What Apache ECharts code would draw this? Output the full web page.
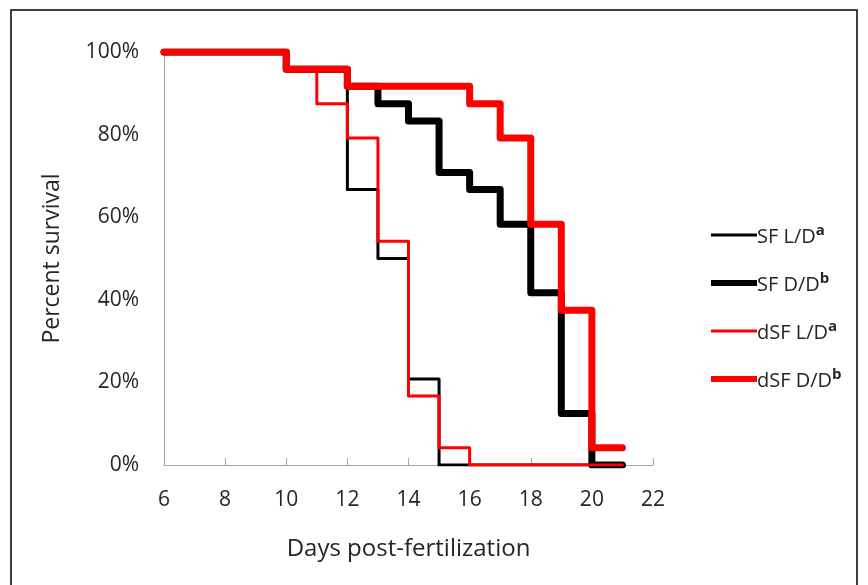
<!DOCTYPE html>
<html>
<head>
<meta charset="utf-8">
<script src="https://cdn.jsdelivr.net/npm/echarts@6/dist/echarts.min.js"></script>
<style>
  html, body { margin: 0; padding: 0; background: #fff; }
  #chart { width: 868px; height: 585px; }
</style>
</head>
<body>
<div id="chart"></div>
<script>
// Kaplan-Meier survival steps: value holds from that day until the next listed day
const days = [6, 10, 11, 12, 13, 14, 15, 16, 17, 18, 19, 20, 21];
const sfLD  = [100, 95.8, 95.8, 66.7, 50.0, 20.8, 0, 0, 0, 0, 0, 0, 0];
const sfDD  = [100, 95.8, 95.8, 91.7, 87.5, 83.3, 70.8, 66.7, 58.3, 41.7, 12.5, 0, 0];
const dsfLD = [100, 95.8, 87.5, 79.2, 54.2, 16.7, 4.2, 0, 0, 0, 0, 0, 0];
const dsfDD = [100, 95.8, 95.8, 91.7, 91.7, 91.7, 91.7, 87.5, 79.2, 58.3, 37.5, 4.2, 4.2];

const seriesNames = ['SF L/D', 'SF D/D', 'dSF L/D', 'dSF D/D'];
const seriesSup = ['a', 'b', 'a', 'b'];
const seriesColors = ['#000000', '#000000', '#ff0000', '#ff0000'];
const seriesWidths = [3, 7, 3, 7];

const FONT = '"Open Sans", "Noto Sans", sans-serif';
const TEXT = '#262626';
const AXIS = '#a6a6a6';

function pairs(vals) {
  return days.map((d, i) => [d, vals[i]]);
}

function stepSeries(i, vals) {
  return {
    name: seriesNames[i],
    type: 'line',
    step: 'end',
    symbol: 'none',
    data: pairs(vals),
    lineStyle: { color: seriesColors[i], width: seriesWidths[i], cap: 'round', join: 'round' },
    itemStyle: { color: seriesColors[i] },
    emphasis: { disabled: true },
    animation: false
  };
}

// legend key: a flat bar as thick as the series stroke
function keyIcon(w) {
  return 'path://M0,0 L46,0 L46,' + w + ' L0,' + w + ' Z';
}

const chart = echarts.init(document.getElementById('chart'), null, { renderer: 'canvas' });

chart.setOption({
  backgroundColor: '#ffffff',
  animation: false,
  grid: { left: 164, right: 215, top: 52, bottom: 120, containLabel: false },
  xAxis: {
    type: 'value',
    min: 6, max: 22, interval: 2,
    name: 'Days post-fertilization',
    nameLocation: 'middle',
    nameGap: 72,
    nameTextStyle: { fontFamily: FONT, fontSize: 24, color: TEXT },
    axisLine: { show: true, lineStyle: { color: AXIS, width: 1 } },
    axisTick: { show: true, inside: true, length: 7, lineStyle: { color: AXIS } },
    axisLabel: { fontFamily: FONT, fontSize: 21, color: TEXT, margin: 25 },
    splitLine: { show: false }
  },
  yAxis: {
    type: 'value',
    min: 0, max: 100, interval: 20,
    name: 'Percent survival',
    nameLocation: 'middle',
    nameGap: 100,
    nameTextStyle: { fontFamily: FONT, fontSize: 23, color: TEXT },
    axisLine: { show: true, lineStyle: { color: AXIS, width: 1 } },
    axisTick: { show: false },
    axisLabel: { fontFamily: FONT, fontSize: 21, color: TEXT, margin: 25, formatter: '{value}%' },
    splitLine: { show: false }
  },
  legend: {
    orient: 'vertical',
    left: 706,
    top: 218,
    itemWidth: 46,
    itemHeight: 24,
    itemGap: 24,
    selectedMode: false,
    symbolKeepAspect: true,
    data: seriesNames.map((n, i) => ({
      name: n,
      icon: keyIcon(seriesWidths[i] - (i % 2 === 1 ? 1 : 0)),
      itemStyle: { color: seriesColors[i] }
    })),
    formatter: function (name) {
      const i = seriesNames.indexOf(name);
      return '{n|' + name + '}{s|' + seriesSup[i] + '}';
    },
    textStyle: {
      padding: [0, 0, 0, -5],
      rich: {
        n: { fontFamily: FONT, fontSize: 20, color: TEXT, lineHeight: 24, verticalAlign: 'bottom' },
        s: { fontFamily: FONT, fontSize: 15, fontWeight: 'bold', color: TEXT, lineHeight: 15, verticalAlign: 'top' }
      }
    }
  },
  graphic: [{
    type: 'rect',
    shape: { x: 11, y: 10, width: 846, height: 600 },
    style: { fill: 'none', stroke: '#000', lineWidth: 1.5 },
    silent: true
  }],
  series: [
    stepSeries(0, sfLD),
    stepSeries(1, sfDD),
    stepSeries(2, dsfLD),
    stepSeries(3, dsfDD)
  ]
});
</script>
</body>
</html>
